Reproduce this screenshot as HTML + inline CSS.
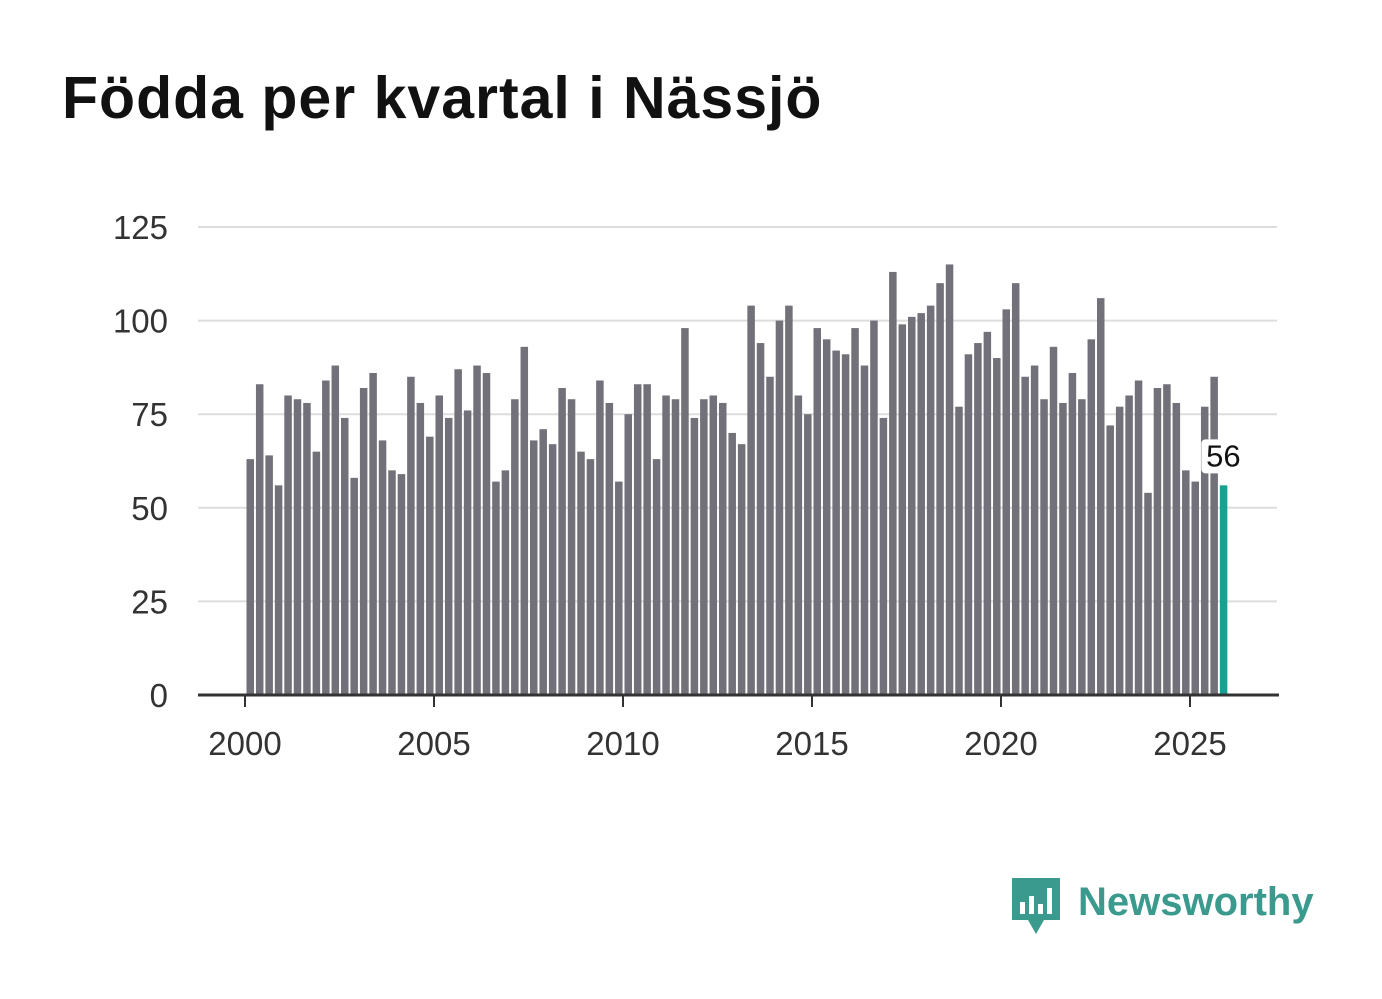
<!DOCTYPE html>
<html><head><meta charset="utf-8"><style>
body{margin:0;background:#fff;width:1382px;height:999px;overflow:hidden;font-family:"Liberation Sans",sans-serif}
h1{position:absolute;left:62px;top:64px;margin:0;font-size:59px;letter-spacing:1px;font-weight:bold;color:#111}
</style></head><body>
<h1>Födda per kvartal i Nässjö</h1>
<svg id="chart" width="1382" height="999" style="position:absolute;left:0;top:0"></svg>
<div style="position:absolute;left:1010px;top:876px;display:flex;align-items:center">
<svg width="52" height="60"><path d="M2 2h48v42H34l-8 14-8-14H2z" fill="#3a9a8e"/><rect x="10" y="26" width="5" height="12" fill="#fff"/><rect x="19" y="20" width="5" height="18" fill="#fff"/><rect x="28" y="28" width="5" height="10" fill="#fff"/><rect x="37" y="12" width="5" height="26" fill="#fff"/></svg>
<span style="font-size:40px;font-weight:bold;color:#3a9a8e;margin-left:16px;position:relative;top:-4px">Newsworthy</span></div>
<script>
const values=[63,83,64,56,80,79,78,65,84,88,74,58,82,86,68,60,59,85,78,69,80,74,87,76,88,86,57,60,79,93,68,71,67,82,79,65,63,84,78,57,75,83,83,63,80,79,98,74,79,80,78,70,67,104,94,85,100,104,80,75,98,95,92,91,98,88,100,74,113,99,101,102,104,110,115,77,91,94,97,90,103,110,85,88,79,93,78,86,79,95,106,72,77,80,84,54,82,83,78,60,57,77,85,56];
const yTicks=[0,25,50,75,100,125];
const xTicks=[2000,2005,2010,2015,2020,2025];
const startYear=2000;
const svg=document.getElementById('chart');const NS='http://www.w3.org/2000/svg';
const x=t=>245+(t-startYear)*37.8;
const y=v=>695-v*3.744;
function mk(tag,attrs){const e=document.createElementNS(NS,tag);for(const k in attrs)e.setAttribute(k,attrs[k]);svg.appendChild(e);return e;}
yTicks.forEach(v=>{
 if(v>0){const l=mk('line',{x1:198,x2:1277,y1:y(v),y2:y(v),stroke:'#ddd','stroke-width':2});
 
 }
 const t=mk('text',{x:168,y:y(v)+12,'text-anchor':'end','font-size':33,fill:'#333'});t.textContent=v;
 
 
});
values.forEach((v,i)=>{
 const last=i===values.length-1;
 const r=mk('rect',{x:x(startYear+i/4)+1.5,y:y(v),width:7.5,height:v*3.744,fill:last?'#17a192':'#727078'});
 
 
});
const base=mk('line',{x1:198,x2:1279,y1:695,y2:695,stroke:'#333','stroke-width':3});


xTicks.forEach(t=>{
 const l=mk('line',{x1:x(t),x2:x(t),y1:695,y2:707,stroke:'#333','stroke-width':2});
 
 
 const tx=mk('text',{x:x(t),y:755,'text-anchor':'middle','font-size':33,fill:'#333'});tx.textContent=t;
 
 
});
const lv=values[values.length-1];
const lx=x(startYear+(values.length-1)/4)+5;
const bg=mk('rect',{x:lx-22,y:y(lv)-46,width:44,height:34,fill:'#fff',rx:4});


const lab=mk('text',{x:lx,y:y(lv)-19,'text-anchor':'middle','font-size':31,fill:'#111'});lab.textContent=lv;


</script>
</body></html>
